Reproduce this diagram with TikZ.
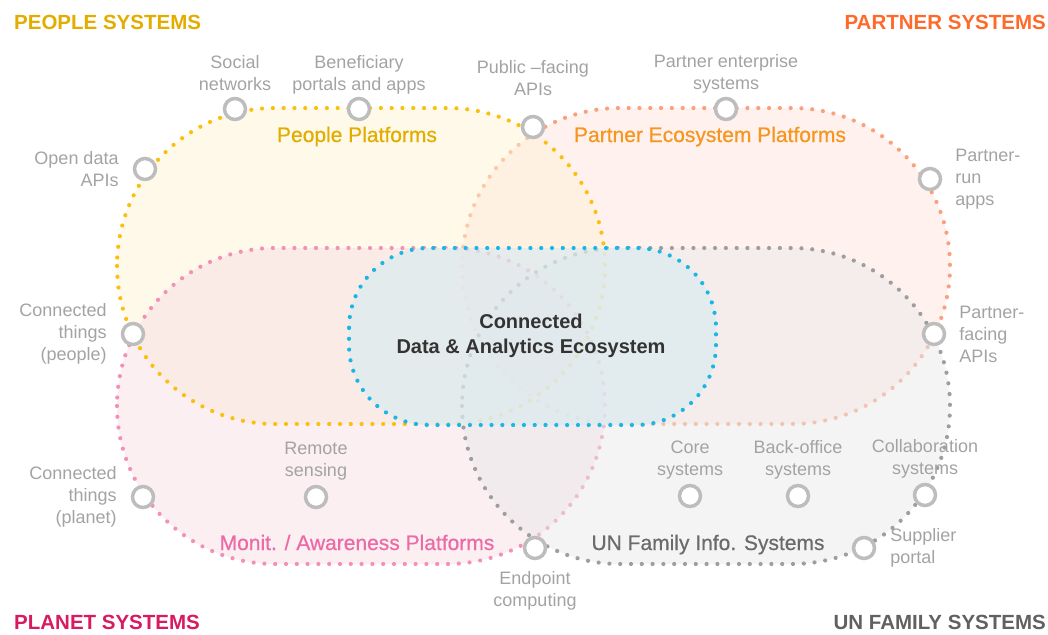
\documentclass[tikz,border=0pt]{standalone}
\usepackage{fontspec}
\setmainfont{Liberation Sans}
\newfontfamily\zonefont{Liberation Sans}[FakeBold=0.6]
\usetikzlibrary{positioning}

\definecolor{peopleTitle}{HTML}{E3AD00}
\definecolor{peopleDot}{HTML}{FBBF10}
\definecolor{peopleFill}{HTML}{FFF3D5}
\definecolor{partnerTitle}{HTML}{FF6A2B}
\definecolor{partnerText}{HTML}{F7961E}
\definecolor{partnerDot}{HTML}{F9A07C}
\definecolor{partnerFill}{HTML}{FFE3DD}
\definecolor{planetTitle}{HTML}{D81B60}
\definecolor{planetText}{HTML}{EC6AA5}
\definecolor{planetDot}{HTML}{F490B6}
\definecolor{planetFill}{HTML}{F7DFE5}
\definecolor{unTitle}{HTML}{616161}
\definecolor{unText}{HTML}{6B6B6B}
\definecolor{unDot}{HTML}{9E9E9E}
\definecolor{unFill}{HTML}{E9E9E9}
\definecolor{hubDot}{HTML}{1BB5E6}
\definecolor{hubFill}{HTML}{DCEBEF}
\definecolor{hubText}{HTML}{333333}
\definecolor{ringGray}{HTML}{BDBDBD}
\definecolor{lblGray}{HTML}{A3A3A3}

\begin{document}
\begin{tikzpicture}[x=1pt, y=-1pt,
    dotline/.style = {line width=4.2pt, line cap=round,
        dash pattern=on 0pt off 10.8pt},
    area/.style = {rounded corners=158pt, fill opacity=0.5},
    ring/.style = {circle, draw=ringGray, line width=3.5pt, fill=white,
        minimum size=21pt, inner sep=0pt},
    lbl/.style = {text=lblGray, font=\fontsize{18}{22}\selectfont,
        inner sep=0pt, align=center},
    syslabel/.style = {font=\fontsize{20.5}{25}\selectfont\bfseries,
        inner sep=0pt},
    areaname/.style = {font=\fontsize{21}{25}\selectfont\zonefont,
        inner sep=0pt, anchor=base},
    hubtext/.style = {text=hubText, font=\fontsize{20}{25}\selectfont\bfseries,
        inner sep=0pt, align=center}]

\useasboundingbox (0,0) rectangle (1048,634);

% Partner ecosystem platforms
\fill[area, partnerFill] (462,108) rectangle (950,424);
\draw[dotline, partnerDot, rounded corners=158pt] (462,108) rectangle (950,424);

% People platforms and monitoring platforms
\fill[area, peopleFill] (117,108) rectangle (605,424);
\fill[area, planetFill] (117,248) rectangle (605,564);
\draw[dotline, peopleDot, rounded corners=158pt] (117,108) rectangle (605,424);
\draw[dotline, planetDot, rounded corners=158pt] (117,248) rectangle (605,564);

% UN family info systems
\fill[area, unFill] (462,248) rectangle (950,564);
\draw[dotline, unDot, rounded corners=158pt] (462,248) rectangle (950,564);

% Connected data and analytics ecosystem
\fill[hubFill, fill opacity=0.72, rounded corners=80pt] (349,248) rectangle (716,425);
\draw[dotline, hubDot, rounded corners=80pt] (349,248) rectangle (716,425);

% Corner titles
\node[syslabel, text=peopleTitle, anchor=base west] (peoplesys) at (14,30) {PEOPLE SYSTEMS};
\node[syslabel, text=partnerTitle, anchor=base east] (partnersys) at (1046,30) {PARTNER SYSTEMS};
\node[syslabel, text=planetTitle, anchor=base west] (planetsys) at (14,629) {PLANET SYSTEMS};
\node[syslabel, text=unTitle, anchor=base east] (unsys) at (1046,629) {UN FAMILY SYSTEMS};

% Platform names
\node[areaname, text=peopleTitle] (peopleplat) at (357,142) {People Platforms};
\node[areaname, text=partnerText] (partnerplat) at (710,142) {Partner Ecosystem Platforms};
\node[areaname, text=planetText] (planetplat) at (357,550) {Monit. / Awareness Platforms};
\node[areaname, text=unText] (unplat) at (708,550) {UN Family Info. Systems};

\node[hubtext] (hub) at (531,336) {Connected\\Data \& Analytics Ecosystem};

% Touch points
\node[ring] (social) at (235,109) {};
\node[ring] (benef) at (359,109) {};
\node[ring] (pubapi) at (533,127) {};
\node[ring] (partent) at (726,109) {};
\node[ring] (partrun) at (930,179) {};
\node[ring] (opendata) at (145,169) {};
\node[ring] (thingsppl) at (133,334) {};
\node[ring] (partapi) at (934,334) {};
\node[ring] (thingsplt) at (143,497) {};
\node[ring] (remote) at (316,497) {};
\node[ring] (endpoint) at (535,548) {};
\node[ring] (core) at (690,496) {};
\node[ring] (backoff) at (798,496) {};
\node[ring] (collab) at (925,495) {};
\node[ring] (supplier) at (864,548) {};

% Touch point labels
\node[lbl, above=6pt of social] (socialtxt) {Social\\networks};
\node[lbl, above=2pt of benef] (beneftxt) {Beneficiary\\portals and apps};
\node[lbl, above=19pt of pubapi] (pubapitxt) {Public –facing\\APIs};
\node[lbl, above=3pt of partent] (partenttxt) {Partner enterprise\\systems};
\node[lbl, align=left, right=13pt of partrun] (partruntxt) {Partner-\\run\\apps};
\node[lbl, align=right, left=14pt of opendata] (opendatatxt) {Open data\\APIs};
\node[lbl, align=right, left=14pt of thingsppl] (thingsppltxt) {Connected\\things\\(people)};
\node[lbl, align=left, right=13pt of partapi] (partapitxt) {Partner-\\facing\\APIs};
\node[lbl, align=right, left=14pt of thingsplt] (thingsplttxt) {Connected\\things\\(planet)};
\node[lbl, above=4pt of remote] (remotetxt) {Remote\\sensing};
\node[lbl, below=11pt of endpoint] (endpointtxt) {Endpoint\\computing};
\node[lbl, above=4pt of core] (coretxt) {Core\\systems};
\node[lbl, above=4pt of backoff] (backofftxt) {Back-office\\systems};
\node[lbl, above=4pt of collab] (collabtxt) {Collaboration\\systems};
\node[lbl, align=left, right=14pt of supplier] (suppliertxt) {Supplier\\portal};
\end{tikzpicture}
\end{document}
